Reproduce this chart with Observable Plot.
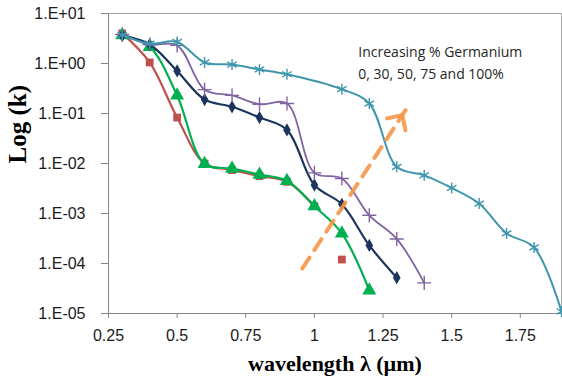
<!DOCTYPE html>
<html>
<head>
<meta charset="utf-8">
<script src="https://cdn.jsdelivr.net/npm/d3@7"></script>
<script src="https://cdn.jsdelivr.net/npm/@observablehq/plot@0.6"></script>
<style>
  html, body { margin: 0; padding: 0; background: #fff; }
</style>
</head>
<body>
<div id="chart"></div>
<script>
// Extinction coefficient k versus wavelength for SiGe alloys of increasing Ge content
const ge0Wl   = [0.3, 0.4, 0.5, 0.6, 0.7, 0.8, 0.9, 1.0, 1.1];
const ge0K    = [4.0, 1.05, 0.083, 0.0100, 0.0074, 0.0056, 0.0043, 0.0014, 0.00012];
const ge0LinePoints = 8; // the last 0% sample is shown as a marker only

const ge30Wl  = [0.3, 0.4, 0.5, 0.6, 0.7, 0.8, 0.9, 1.0, 1.1, 1.2];
const ge30K   = [3.7, 2.15, 0.23, 0.0098, 0.0079, 0.0060, 0.0045, 0.0014, 0.00040, 0.000029];

const ge50Wl  = [0.3, 0.4, 0.5, 0.6, 0.7, 0.8, 0.9, 1.0, 1.1, 1.2, 1.3];
const ge50K   = [3.6, 2.4, 0.71, 0.19, 0.136, 0.083, 0.047, 0.0037, 0.00153, 0.00023, 0.000052];

const ge75Wl  = [0.3, 0.4, 0.5, 0.6, 0.7, 0.8, 0.9, 1.0, 1.1, 1.2, 1.3, 1.4];
const ge75K   = [3.8, 2.4, 2.3, 0.30, 0.23, 0.153, 0.158, 0.0065, 0.0050, 0.00092, 0.00031, 0.000041];

const ge100Wl = [0.3, 0.4, 0.5, 0.6, 0.7, 0.8, 0.9, 1.1, 1.2, 1.3, 1.4, 1.5, 1.6, 1.7, 1.8, 1.9];
const ge100K  = [3.7, 2.5, 2.7, 1.05, 0.95, 0.76, 0.61, 0.306, 0.158, 0.0086, 0.0058, 0.00325, 0.00158, 0.00040, 0.00021, 0.000011];

const xTicks = [0.25, 0.5, 0.75, 1, 1.25, 1.5, 1.75];
const yTicks = [1e1, 1e0, 1e-1, 1e-2, 1e-3, 1e-4, 1e-5];

const annotationLines = ["Increasing % Germanium", "0, 30, 50, 75 and 100%"];
const annotationAt = {x: 1.16, k: 2.7};
const arrowFrom = {x: 0.948, k: 6.8e-5};
const arrowTo = {x: 1.336, k: 0.126};

const W = 562, H = 381;
const M = {left: 108, right: 1, top: 13, bottom: 68};
const xDomain = [0.25, 1.9];
const yDomain = [1e-5, 10];

const series = [
  {wl: ge0Wl,   k: ge0K,   color: "#c0504d", symbol: "square",   r: 4.4, width: 2.2, linePoints: ge0LinePoints},
  {wl: ge30Wl,  k: ge30K,  color: "#00b050", symbol: "triangle", r: 5.2, width: 2.2},
  {wl: ge50Wl,  k: ge50K,  color: "#1c355e", symbol: "diamond",  r: 4.0, width: 2.2},
  {wl: ge75Wl,  k: ge75K,  color: "#8064a2", symbol: "plus",     r: 4.6, width: 1.8},
  {wl: ge100Wl, k: ge100K, color: "#3f97ad", symbol: "asterisk", r: 5.2, width: 2.0}
];

const rows = s => s.wl.map((w, i) => ({wl: w, k: s.k[i]}));

const stroked = new Set(["plus", "asterisk"]);
const seriesMarks = series.flatMap(s => {
  const pts = rows(s);
  const linePts = s.linePoints ? pts.slice(0, s.linePoints) : pts;
  return [
    Plot.line(linePts, {x: "wl", y: "k", stroke: s.color, strokeWidth: s.width, curve: "catmull-rom"}),
    Plot.dot(pts, stroked.has(s.symbol)
      ? {x: "wl", y: "k", symbol: s.symbol, r: s.r, stroke: s.color, strokeWidth: 1.4, fill: "none"}
      : {x: "wl", y: "k", symbol: s.symbol, r: s.r, fill: s.color, stroke: "none"})
  ];
});

// Pixel direction of the trend arrow, from the same scales the plot uses
const sx = Plot.scale({x: {domain: xDomain, range: [M.left, W - M.right]}});
const sy = Plot.scale({y: {type: "log", domain: yDomain, range: [H - M.bottom, M.top]}});
const adx = sx.apply(arrowTo.x) - sx.apply(arrowFrom.x);
const ady = sy.apply(arrowTo.k) - sy.apply(arrowFrom.k);
const arrowAngle = Math.atan2(adx, -ady) * 180 / Math.PI;
const arrowLen = Math.hypot(adx, ady);

const expFmt = d => {
  const e = Math.round(Math.log10(d));
  return "1.E" + (e < 0 ? "-" : "+") + String(Math.abs(e)).padStart(2, "0");
};

const tickFont = "'Liberation Sans', Arial, sans-serif";
const serif = "'Liberation Serif', 'DejaVu Serif', serif";

const chart = Plot.plot({
  width: W,
  height: H,
  marginLeft: M.left,
  marginRight: M.right,
  marginTop: M.top,
  marginBottom: M.bottom,
  style: {fontFamily: tickFont, fontSize: "16px", color: "#1a1a1a", background: "#fff"},
  x: {domain: xDomain},
  y: {type: "log", domain: yDomain},
  marks: [
    Plot.frame({stroke: "#a6a6a6"}),
    Plot.ruleX([xDomain[0]], {stroke: "#868686"}),
    Plot.ruleY([yDomain[0]], {stroke: "#868686"}),
    Plot.axisX({ticks: xTicks, tickSize: 5, tickPadding: 11, tickFormat: d => String(d), label: null, stroke: "#868686"}),
    Plot.axisY({ticks: yTicks, tickSize: 7, tickPadding: 16, tickFormat: expFmt, label: null, stroke: "#868686"}),
    ...seriesMarks,
    // dashed shaft of the trend arrow
    Plot.vector([0], {
      x: arrowTo.x, y: arrowTo.k, anchor: "end", rotate: arrowAngle, length: arrowLen - 4,
      shape: {draw(ctx, l) { ctx.moveTo(0, 0); ctx.lineTo(0, -l); }},
      stroke: "#f79646", strokeWidth: 4, strokeDasharray: "13,9", strokeOpacity: 0.9
    }),
    // open head of the trend arrow
    Plot.vector([0], {
      x: arrowTo.x, y: arrowTo.k, anchor: "end", rotate: arrowAngle, length: 8,
      shape: {draw(ctx, l) { const w = 11; ctx.moveTo(-w, w); ctx.lineTo(0, 0); ctx.lineTo(w, w); }},
      stroke: "#f79646", strokeWidth: 4, strokeOpacity: 0.9, strokeLinejoin: "miter"
    }),
    Plot.text([annotationLines.join("\n")], {
      x: annotationAt.x, y: annotationAt.k, textAnchor: "start", lineAnchor: "top",
      lineHeight: 1.55, fontSize: 14, fill: "#262626",
      fontFamily: "'Open Sans', 'Liberation Sans', sans-serif"
    }),
    Plot.text(["wavelength λ (µm)"], {
      frameAnchor: "bottom", dy: 57, lineAnchor: "bottom", fontSize: 22, fontWeight: "bold",
      fontFamily: serif, fill: "#000"
    }),
    Plot.text(["Log (k)"], {
      frameAnchor: "left", dx: -91, rotate: -90, fontSize: 25, fontWeight: "bold",
      fontFamily: serif, fill: "#000"
    })
  ]
});

document.getElementById("chart").appendChild(chart);
</script>
</body>
</html>
